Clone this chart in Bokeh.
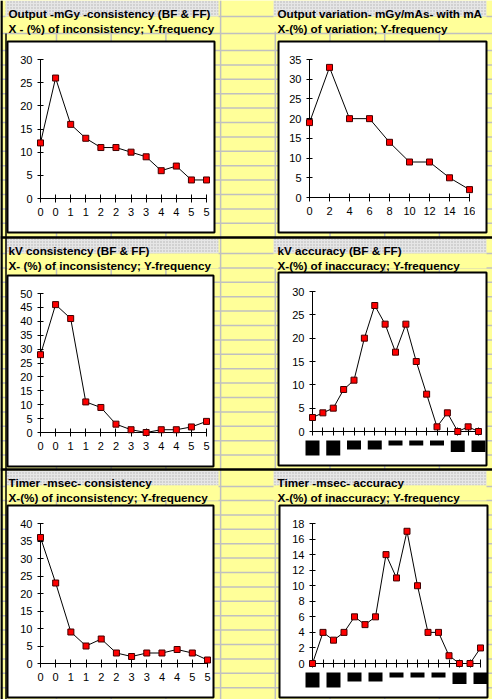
from bokeh.plotting import figure
from bokeh.models import GridBox, Range1d, FixedTicker, LinearAxis, Column
from bokeh.embed import file_html
from bokeh.resources import INLINE
from bokeh.core.properties import value

W, H = 492, 699
FONT = "Liberation Sans"
YELLOW = "#FFFF99"

# ---------------- data ----------------
c1_labels = ["0", "0", "1", "1", "2", "2", "3", "3", "4", "4", "5", "5"]
c1_freq = [12, 26, 16, 13, 11, 11, 10, 9, 6, 7, 4, 4]
c2_labels = ["0", "2", "4", "6", "8", "10", "12", "14", "16"]
c2_freq = [19, 33, 20, 20, 14, 9, 9, 5, 2]
c3_labels = ["0", "0", "1", "1", "2", "2", "3", "3", "4", "4", "5", "5"]
c3_freq = [28, 46, 41, 11, 9, 3, 1, 0, 1, 1, 2, 4]
c4_labels = [""] * 17
c4_freq = [3, 4, 5, 9, 11, 20, 27, 23, 17, 23, 15, 8, 1, 4, 0, 1, 0]
c5_labels = ["0", "0", "1", "1", "2", "2", "3", "3", "4", "4", "5", "5"]
c5_freq = [36, 23, 9, 5, 7, 3, 2, 3, 3, 4, 3, 1]
c6_labels = [""] * 17
c6_freq = [0, 4, 3, 4, 6, 5, 6, 14, 11, 17, 10, 4, 4, 1, 0, 0, 2]

titles = ["Output -mGy -consistency  (BF & FF)", "Output variation- mGy/mAs- with mA",
          "kV consistency (BF & FF)", "kV accuracy (BF & FF)",
          "Timer -msec- consistency", "Timer -msec- accuracy"]
subtitles = ["X - (%) of inconsistency; Y-frequency", "X-(%) of  variation; Y-frequency",
             "X- (%) of inconsistency; Y-frequency", "X-(%) of inaccuracy; Y-frequency",
             "X-(%) of inconsistency; Y-frequency", "X-(%) of  inaccuracy; Y-frequency"]
y_max = [30, 35, 50, 30, 40, 18]
y_step = [5, 5, 5, 5, 5, 2]

charts = [(c1_labels, c1_freq), (c2_labels, c2_freq), (c3_labels, c3_freq),
          (c4_labels, c4_freq), (c5_labels, c5_freq), (c6_labels, c6_freq)]

# ---------------- layout geometry (pixels) ----------------
frames = [(40, 206, 59, 198), (309, 469, 59, 197),
          (40, 206, 293, 432), (312, 478, 291, 431),
          (40, 207, 523, 663), (312, 480, 523, 663)]
boxes = [(7, 214, 41, 232), (278, 486, 41, 232),
         (7, 213, 275, 466), (278, 486, 272, 465),
         (7, 213, 505, 697), (279, 487, 505, 697)]
sec_tops = [0, 237, 469]

# ---------------- background sheet ----------------
bg = figure(width=W, height=H, x_range=Range1d(0, W), y_range=Range1d(H, 0),
            output_backend="svg", toolbar_location=None, min_border=0,
            x_axis_type=None, y_axis_type=None, background_fill_color=YELLOW,
            border_fill_color=YELLOW, outline_line_color=None)

hl = [16, 33] + [50 + 14.4 * k for k in range(13)] + [253 + 14.4 * k for k in range(15)] \
     + [486] + [500 + 14.4 * k for k in range(14)]
bg.segment(x0=[0] * len(hl), x1=[W] * len(hl), y0=hl, y1=hl, line_color="#C0C0C0", line_width=1.5)
vl = [1.3 + 54.7 * k for k in range(1, 10)]
bg.segment(x0=vl, x1=vl, y0=[0] * len(vl), y1=[H] * len(vl), line_color="#C0C0C0", line_width=1.5)

for st in sec_tops:
    bg.quad(left=[5, 273], right=[218, 486], top=[st + (1 if st else 0)] * 2, bottom=[st + 16] * 2,
            fill_color="#E6E6E6", line_color=None, hatch_pattern="dot",
            hatch_color="#B0B0B0", hatch_scale=3)
    bg.quad(left=[5, 273], right=[218, 486], top=[st + 16] * 2, bottom=[st + 31] * 2,
            fill_color=YELLOW, line_color=None)

bg.segment(x0=[1], x1=[1], y0=[0], y1=[H], line_color="black", line_width=2.5)
bg.segment(x0=[5.5], x1=[5.5], y0=[33], y1=[H], line_color="black", line_width=1.5)
bg.segment(x0=[0, 0], x1=[W, W], y0=[237, 469], y1=[237, 469], line_color="black", line_width=2.5)

bg.quad(left=[b[0] for b in boxes], right=[b[1] for b in boxes],
        top=[b[2] for b in boxes], bottom=[b[3] for b in boxes],
        fill_color="white", line_color="black", line_width=2)

tx, ty, tt = [], [], []
for i in range(6):
    x = 8 if i % 2 == 0 else 277
    st = sec_tops[i // 2]
    tx += [x, x]
    ty += [st + 13, st + 28]
    tt += [titles[i], subtitles[i]]
bg.text(x=tx, y=ty, text=tt, text_font=value(FONT), text_font_style="bold",
        text_font_size="11.7px", text_baseline="alphabetic", text_color="black")

blk_h = [15, 15, 9, 9, 5, 5, 5, 11.5, 11.5]
for ci in (3, 5):
    ax, xr, yt, y0 = frames[ci]
    n = len(charts[ci][0])
    step = (xr - ax) / (n - 1)
    cx = [ax + 2 * k * step for k in range(9)]
    bg.quad(left=[c - 7 for c in cx], right=[c + 7 for c in cx],
            top=[y0 + 9] * 9, bottom=[y0 + 9 + h for h in blk_h],
            fill_color="black", line_color=None)

items = [Column(children=[bg])]

# ---------------- charts ----------------
for ci, (labels, freq) in enumerate(charts):
    ax, xr, yt, y0 = frames[ci]
    n = len(labels)
    fw, fh = xr - ax, y0 - yt
    L, R, T, B = 36, 6, 6, 28
    pa = figure(width=fw + L + R, height=fh + T + B,
                x_range=Range1d(0, n - 1), y_range=Range1d(0, y_max[ci]),
                output_backend="svg", toolbar_location=None,
                min_border_left=L, min_border_right=R, min_border_top=T, min_border_bottom=B,
                x_axis_type=None, y_axis_type=None,
                background_fill_color=None, border_fill_color=None, outline_line_color=None)
    xaxis = LinearAxis(ticker=FixedTicker(ticks=list(range(n))),
                       major_label_overrides={i: lab for i, lab in enumerate(labels)},
                       major_tick_in=4, major_tick_out=4, minor_tick_line_color=None,
                       axis_line_color="black", major_tick_line_color="black",
                       major_label_text_font=FONT, major_label_text_font_size="11px",
                       major_label_text_color="black", major_label_standoff=5)
    yaxis = LinearAxis(ticker=FixedTicker(ticks=list(range(0, y_max[ci] + 1, y_step[ci]))),
                       major_tick_in=3, major_tick_out=3, minor_tick_line_color=None,
                       axis_line_color="black", major_tick_line_color="black",
                       major_label_text_font=FONT, major_label_text_font_size="11px",
                       major_label_text_color="black", major_label_standoff=5)
    pa.add_layout(xaxis, "below")
    pa.add_layout(yaxis, "left")
    items.append(Column(children=[pa], margin=(yt - T, 0, 0, ax - L)))

    pad = 8
    ux = pad * (n - 1) / fw
    uy = pad * y_max[ci] / fh
    pb = figure(width=fw + 2 * pad, height=fh + 2 * pad,
                x_range=Range1d(-ux, n - 1 + ux), y_range=Range1d(-uy, y_max[ci] + uy),
                output_backend="svg", toolbar_location=None, min_border=0,
                x_axis_type=None, y_axis_type=None,
                background_fill_color=None, border_fill_color=None, outline_line_color=None)
    xs = list(range(n))
    pb.line(xs, freq, line_color="black", line_width=1)
    pb.scatter(xs, freq, marker="square", size=6, fill_color="#FF0000",
               line_color="#400000", line_width=1)
    items.append(Column(children=[pb], margin=(yt - pad, 0, 0, ax - pad)))

layout = GridBox(children=[(it, 0, 0) for it in items])

open("out.html", "w").write(file_html(layout, INLINE))
